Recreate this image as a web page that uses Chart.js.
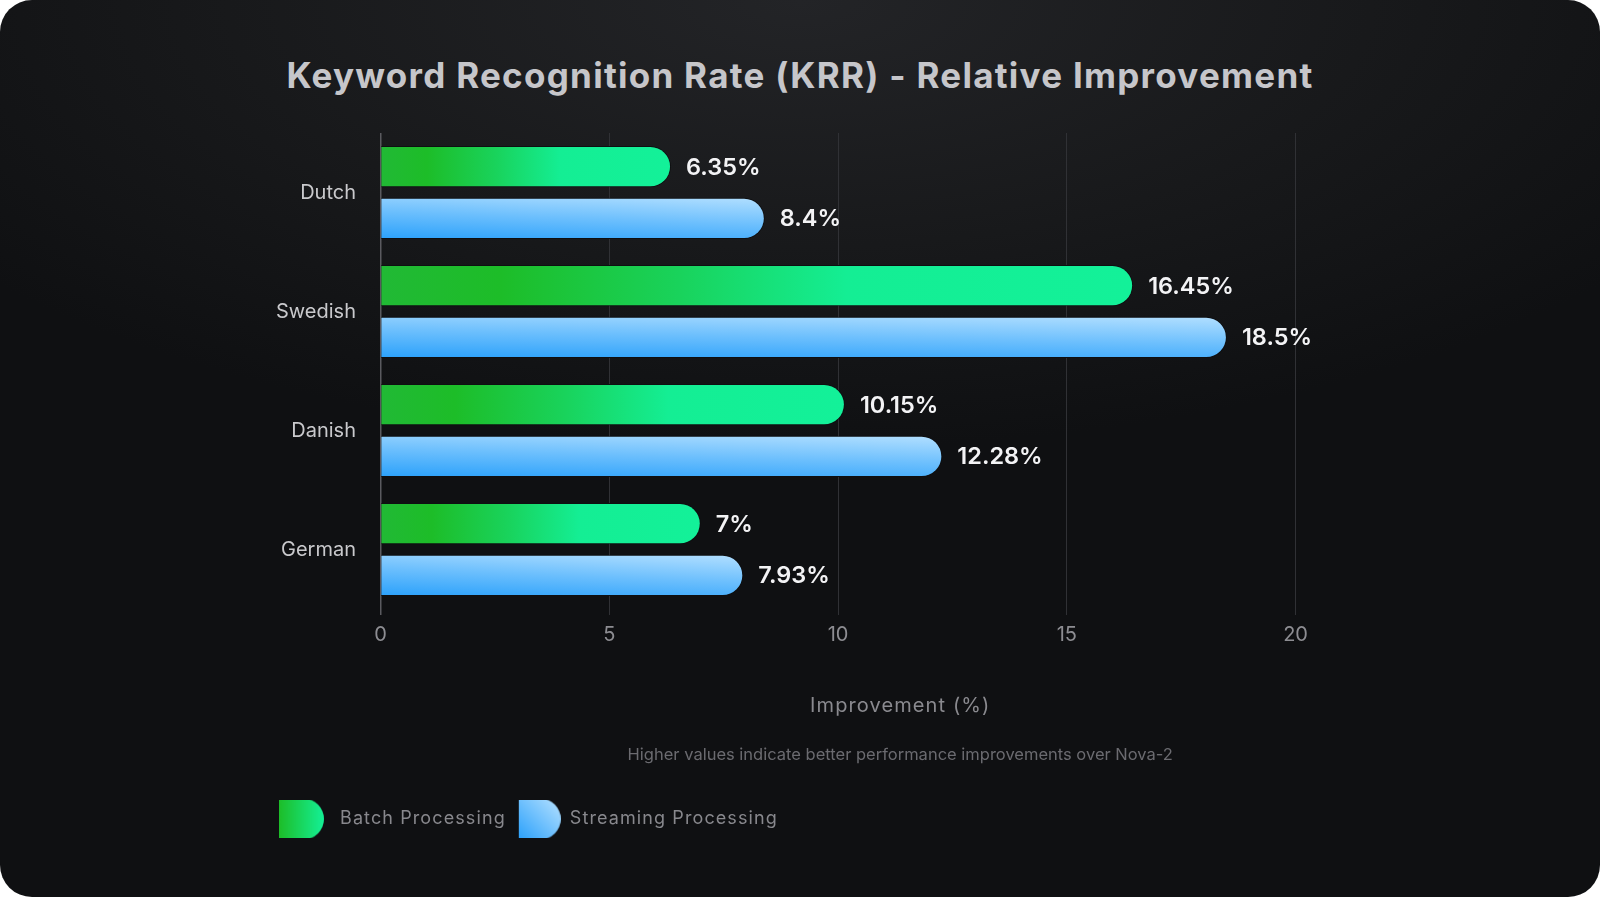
<!DOCTYPE html>
<html>
<head>
<meta charset="utf-8">
<title>Keyword Recognition Rate (KRR) - Relative Improvement</title>
<script src="https://cdn.jsdelivr.net/npm/chart.js@4.4.1/dist/chart.umd.min.js"></script>
<style>
  html, body { margin: 0; padding: 0; background: #ffffff; }
  body { width: 1600px; height: 897px; overflow: hidden; font-family: Inter, 'Noto Sans', sans-serif; }
  .card {
    position: relative; width: 1600px; height: 897px; border-radius: 32px; overflow: hidden;
    background-color: #0f1012;
    background-image: radial-gradient(ellipse 65% 50% at 50% 0%, #232427 0%, #18191b 55%, rgba(15,16,18,0) 100%);
  }
  h1 {
    position: absolute; left: 0; right: 0; top: 50px; margin: 0;
    text-align: center; font: 700 35px Inter, sans-serif; line-height: 50px;
    color: #c6c6ca; letter-spacing: 1.27px;
  }
  .chart-box { position: absolute; left: 276px; top: 121px; width: 1144px; height: 717px; }
</style>
</head>
<body>
<div class="card">
  <h1>Keyword Recognition Rate (KRR) - Relative Improvement</h1>
  <div class="chart-box"><canvas id="krrChart"></canvas></div>
</div>
<script>
// datos del gráfico
const categories = ['Dutch', 'Swedish', 'Danish', 'German'];
const batchValues = [6.35, 16.45, 10.15, 7];
const streamingValues = [8.4, 18.5, 12.28, 7.93];
const seriesNames = ['Batch Processing', 'Streaming Processing'];
const xTicks = [0, 5, 10, 15, 20];
const footnote = 'Higher values indicate better performance improvements over Nova-2';

const catPct = 0.87;
const barPct = 0.8;

// degradado verde a lo largo de cada barra
function batchFill(c) {
  const chart = c.chart;
  const xs = chart.scales.x;
  if (c.type !== 'data' || !chart.chartArea || !xs) return '#17d86a';
  const x0 = xs.getPixelForValue(0);
  const x1 = xs.getPixelForValue(c.raw);
  const g = chart.ctx.createLinearGradient(x0, 0, x1, 0);
  g.addColorStop(0, '#21b935');
  g.addColorStop(0.16, '#1dbd28');
  g.addColorStop(0.4, '#19d35c');
  g.addColorStop(0.62, '#14ee94');
  g.addColorStop(1, '#13f199');
  return g;
}

// degradado azul casi vertical, un poco más claro hacia el final
function streamingFill(c) {
  const chart = c.chart;
  const xs = chart.scales.x, ys = chart.scales.y;
  if (c.type !== 'data' || !chart.chartArea || !xs || !ys) return '#6cbffd';
  const x0 = xs.getPixelForValue(0);
  const len = Math.max(1, xs.getPixelForValue(c.raw) - x0);
  const catH = (chart.chartArea.bottom - chart.chartArea.top) / categories.length;
  const slot = catH * catPct / 2;
  const center = ys.getPixelForValue(c.dataIndex) + slot / 2;
  const h = slot * barPct;
  const bottom = center + h / 2;
  const a = 0.35 / (1.35 * len);
  const b = 1 / (1.35 * h);
  const n = a * a + b * b;
  const g = chart.ctx.createLinearGradient(x0, bottom, x0 + a / n, bottom - b / n);
  g.addColorStop(0, '#2ba1fb');
  g.addColorStop(0.5, '#6cbffd');
  g.addColorStop(1, '#b2dfff');
  return g;
}

// muestras de la leyenda con forma de "D" (con margen transparente para colocarlas)
function makeSwatch(kind, shapeW, padL, padR) {
  const h = 41, r = h / 2;
  const cv = document.createElement('canvas');
  cv.width = padL + shapeW + padR; cv.height = h;
  const x = cv.getContext('2d');
  let g;
  if (kind === 'batch') {
    g = x.createLinearGradient(padL, 0, padL + shapeW, 0);
    g.addColorStop(0, '#1dbd28');
    g.addColorStop(1, '#14f096');
  } else {
    g = x.createLinearGradient(padL, h, padL + shapeW, 0);
    g.addColorStop(0, '#2ba1fb');
    g.addColorStop(1, '#b8e2ff');
  }
  x.fillStyle = g;
  x.beginPath();
  x.moveTo(padL, 0);
  x.lineTo(padL + shapeW - r, 0);
  x.arc(padL + shapeW - r, r, r, -Math.PI / 2, Math.PI / 2);
  x.lineTo(padL, h);
  x.closePath();
  x.fill();
  return cv;
}
const swatches = [makeSwatch('batch', 45, 0, 14), makeSwatch('streaming', 42, 3, 0)];

// espaciado de letras para leyenda y título del eje
const tracking = {
  id: 'tracking',
  beforeLayout(chart) { chart.ctx.letterSpacing = '1.1px'; },
  afterLayout(chart) { chart.ctx.letterSpacing = '0px'; },
  beforeDraw(chart) { chart.ctx.letterSpacing = '1.1px'; },
  beforeDatasetsDraw(chart) { chart.ctx.letterSpacing = '0px'; }
};

// etiquetas de valor al final de cada barra
const valueLabels = {
  id: 'valueLabels',
  afterDatasetsDraw(chart) {
    const ctx = chart.ctx;
    ctx.save();
    ctx.letterSpacing = '0px';
    ctx.font = '600 23.5px Inter, sans-serif';
    ctx.fillStyle = '#f3f3f5';
    ctx.textBaseline = 'middle';
    ctx.textAlign = 'left';
    chart.data.datasets.forEach((ds, di) => {
      chart.getDatasetMeta(di).data.forEach((bar, i) => {
        ctx.fillText(ds.data[i] + '%', bar.x + 15, bar.y + 1);
      });
    });
    ctx.restore();
  }
};

// nota al pie, centrada sobre el área del gráfico
const footnoteText = {
  id: 'footnoteText',
  afterDraw(chart) {
    const ctx = chart.ctx;
    const area = chart.chartArea;
    ctx.save();
    ctx.letterSpacing = '0px';
    ctx.font = '16.5px Inter, sans-serif';
    ctx.fillStyle = '#6b6b70';
    ctx.textAlign = 'center';
    ctx.textBaseline = 'middle';
    ctx.fillText(footnote, (area.left + area.right) / 2, chart.scales.x.bottom - 45);
    ctx.restore();
  }
};

new Chart(document.getElementById('krrChart'), {
  type: 'bar',
  data: {
    labels: categories,
    datasets: [{
      label: seriesNames[0],
      data: batchValues,
      backgroundColor: batchFill,
      borderColor: '#0e0f11',
      borderWidth: 1,
      borderRadius: 21,
      categoryPercentage: catPct,
      barPercentage: barPct
    }, {
      label: seriesNames[1],
      data: streamingValues,
      backgroundColor: streamingFill,
      borderColor: '#0e0f11',
      borderWidth: 1,
      borderRadius: 21,
      categoryPercentage: catPct,
      barPercentage: barPct
    }]
  },
  options: {
    indexAxis: 'y',
    responsive: true,
    maintainAspectRatio: false,
    animation: false,
    events: [],
    layout: { padding: 0 },
    plugins: {
      title: { display: false },
      tooltip: { enabled: false },
      legend: {
        position: 'bottom',
        align: 'start',
        labels: {
          usePointStyle: true,
          pointStyleWidth: 45,
          padding: 10,
          color: '#88888d',
          font: { family: 'Inter', size: 18 },
          generateLabels: () => seriesNames.map((name, i) => ({
            text: name,
            pointStyle: swatches[i],
            fillStyle: 'transparent',
            strokeStyle: 'transparent',
            lineWidth: 0,
            fontColor: '#88888d',
            datasetIndex: i,
            hidden: false
          }))
        }
      }
    },
    scales: {
      x: {
        min: 0,
        max: 22.72,
        afterBuildTicks: s => { s.ticks = xTicks.map(v => ({ value: v })); },
        border: { display: false },
        grid: {
          color: c => (c.tick && c.tick.value === 0) ? '#5a5a5f' : '#303135',
          lineWidth: c => (c.tick && c.tick.value === 0) ? 1.5 : 1,
          tickLength: 6
        },
        ticks: {
          z: 1,
          padding: 8,
          color: '#8d8d92',
          font: { family: 'Inter', size: 20 }
        },
        title: {
          display: true,
          text: 'Improvement (%)',
          color: '#8a8a8f',
          font: { family: 'Inter', size: 20 },
          padding: { top: 39, bottom: 82 }
        }
      },
      y: {
        afterFit: s => { s.width = 104.5; },
        border: { display: false },
        grid: {
          display: true,
          drawOnChartArea: false,
          drawTicks: true,
          tickLength: 24.5,
          color: 'rgba(0,0,0,0)'
        },
        ticks: {
          z: 1,
          padding: 0,
          color: '#c9c9cc',
          font: { family: 'Inter', size: 20 }
        }
      }
    }
  },
  plugins: [tracking, valueLabels, footnoteText]
});
</script>
</body>
</html>
